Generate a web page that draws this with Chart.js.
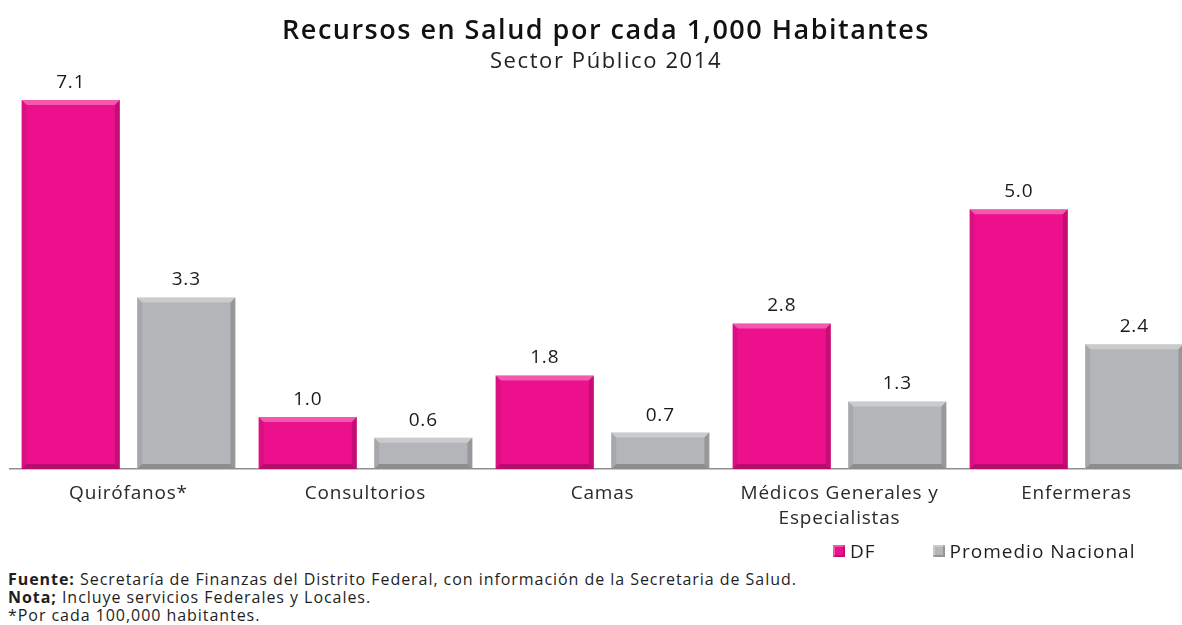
<!DOCTYPE html>
<html>
<head>
<meta charset="utf-8">
<script src="https://cdn.jsdelivr.net/npm/chart.js@4"></script>
<style>
	html, body { margin:0; padding:0; background:#fff; overflow:hidden; }
	#wrap { position:relative; width:1212px; height:625px; font-family:"Open Sans", sans-serif; }
	#box { position:absolute; left:0; top:0; width:1195px; height:540px; }
	#titulo { position:absolute; left:0; top:13px; width:1212px; text-align:center; font-size:27px; line-height:32px; font-weight:600; letter-spacing:1.5px; color:#111; }
	#subtitulo { position:absolute; left:0; top:46px; width:1212px; text-align:center; font-size:22px; line-height:26px; letter-spacing:1.6px; color:#222; }
	#leyenda { position:absolute; left:833px; top:538px; font-size:19px; letter-spacing:1px; color:#1e1e1e; display:flex; }
	#leyenda .item { display:flex; align-items:center; margin-right:57px; }
	#leyenda .caja { width:12px; height:12px; margin-right:5px; box-shadow: inset -2px -2px 0 rgba(0,0,0,.18), inset 2px 2px 0 rgba(255,255,255,.3); }
	#notas { position:absolute; left:8px; top:570px; font-size:16px; line-height:18px; letter-spacing:0.95px; color:#1e1e1e; white-space:nowrap; }
</style>
</head>
<body>
<div id="wrap">
	<div id="box"><canvas id="grafica"></canvas></div>
	<div id="titulo">Recursos en Salud por cada 1,000 Habitantes</div>
	<div id="subtitulo">Sector Público 2014</div>
	<div id="leyenda"></div>
	<div id="notas">
		<div><b>Fuente:</b> Secretaría de Finanzas del Distrito Federal, con información de la Secretaria de Salud.</div>
		<div><b>Nota;</b> Incluye servicios Federales y Locales.</div>
		<div>*Por cada 100,000 habitantes.</div>
	</div>
</div>
<script>
var categorias = ["Quirófanos*", "Consultorios", "Camas", ["Médicos Generales y", "Especialistas"], "Enfermeras"];
var valoresDF = [7.1, 1.0, 1.8, 2.8, 5.0];
var valoresNacional = [3.3, 0.6, 0.7, 1.3, 2.4];
var series = ["DF", "Promedio Nacional"];
var colores = ["#EC108C", "#B4B5B8"];

var fuente = '"Open Sans", sans-serif';

// espaciado de letras en el canvas
var espaciado = {
	id: 'espaciado',
	beforeDraw: function(chart){ chart.ctx.letterSpacing = '0.8px'; }
};

// bisel de las barras
var bisel = {
	id: 'bisel',
	afterDatasetsDraw: function(chart){
		var ctx = chart.ctx;
		chart.data.datasets.forEach(function(ds, i){
			chart.getDatasetMeta(i).data.forEach(function(bar){
				var l = bar.x - bar.width/2, r = bar.x + bar.width/2, t = bar.y, b = bar.base, e = 5;
				ctx.save();
				ctx.fillStyle = 'rgba(255,255,255,0.3)';
				ctx.beginPath(); ctx.moveTo(l,t); ctx.lineTo(r,t); ctx.lineTo(r-e,t+e); ctx.lineTo(l+e,t+e); ctx.closePath(); ctx.fill();
				ctx.fillStyle = 'rgba(0,0,0,0.07)';
				ctx.beginPath(); ctx.moveTo(l,t); ctx.lineTo(l+e,t+e); ctx.lineTo(l+e,b-e); ctx.lineTo(l,b); ctx.closePath(); ctx.fill();
				ctx.fillStyle = 'rgba(0,0,0,0.16)';
				ctx.beginPath(); ctx.moveTo(r,t); ctx.lineTo(r-e,t+e); ctx.lineTo(r-e,b-e); ctx.lineTo(r,b); ctx.closePath(); ctx.fill();
				ctx.fillStyle = 'rgba(0,0,0,0.22)';
				ctx.beginPath(); ctx.moveTo(l,b); ctx.lineTo(l+e,b-e); ctx.lineTo(r-e,b-e); ctx.lineTo(r,b); ctx.closePath(); ctx.fill();
				ctx.restore();
			});
		});
	}
};

// etiquetas de valor
var etiquetas = {
	id: 'etiquetas',
	afterDraw: function(chart){
		var ctx = chart.ctx;
		ctx.save();
		ctx.font = '19px ' + fuente;
		ctx.fillStyle = '#1a1a1a';
		ctx.textAlign = 'center';
		ctx.textBaseline = 'bottom';
		chart.data.datasets.forEach(function(ds, i){
			chart.getDatasetMeta(i).data.forEach(function(bar, k){
				ctx.fillText(ds.data[k].toFixed(1), bar.x, bar.y - 8);
			});
		});
		ctx.restore();
	}
};

// leyenda en html
var leyendaHtml = {
	id: 'leyendaHtml',
	afterUpdate: function(chart){
		var cont = document.getElementById('leyenda');
		cont.innerHTML = '';
		chart.options.plugins.legend.labels.generateLabels(chart).forEach(function(it){
			var item = document.createElement('div');
			item.className = 'item';
			var caja = document.createElement('span');
			caja.className = 'caja';
			caja.style.background = it.fillStyle;
			item.appendChild(caja);
			item.appendChild(document.createTextNode(it.text));
			cont.appendChild(item);
		});
	}
};

new Chart(document.getElementById('grafica'), {
	type: 'bar',
	data: {
		labels: categorias,
		datasets: [
			{ label: series[0], data: valoresDF, backgroundColor: colores[0], categoryPercentage: 0.975, barPercentage: 0.85 },
			{ label: series[1], data: valoresNacional, backgroundColor: colores[1], categoryPercentage: 0.975, barPercentage: 0.85 }
		]
	},
	options: {
		responsive: true,
		maintainAspectRatio: false,
		animation: false,
		layout: { padding: { left: 10, right: 0, top: 100, bottom: 0 } },
		plugins: {
			legend: { display: false },
			tooltip: { enabled: false }
		},
		scales: {
			x: {
				grid: { display: false, drawTicks: false },
				border: { display: true, color: '#8f8f8f', width: 1.5 },
				ticks: { color: '#2a2a2a', font: { family: fuente, size: 19, lineHeight: 1.32 }, padding: 12, maxRotation: 0, autoSkip: false },
				afterFit: function(scale){ scale.height = 71; }
			},
			y: {
				display: false,
				min: 0,
				max: Math.max.apply(null, valoresDF)
			}
		}
	},
	plugins: [espaciado, bisel, etiquetas, leyendaHtml]
});
</script>
</body>
</html>
